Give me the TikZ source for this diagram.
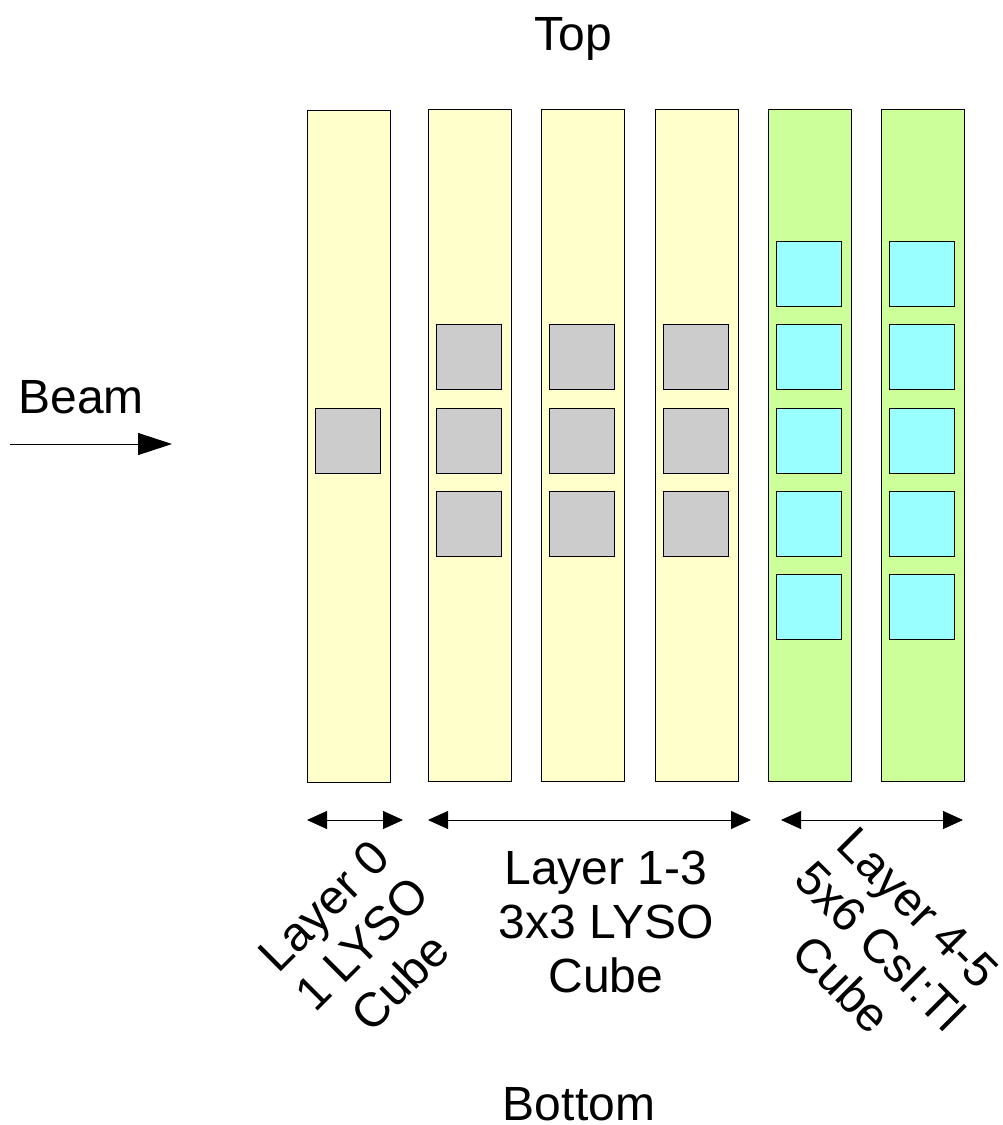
\documentclass[tikz,border=0pt]{standalone}
\usepackage{fontspec}
\setmainfont{Liberation Sans}
\usetikzlibrary{arrows.meta}
\definecolor{lyso}{HTML}{FFFFCC}
\definecolor{csi}{HTML}{CCFF99}
\definecolor{cubeg}{HTML}{CCCCCC}
\definecolor{cubec}{HTML}{99FFFF}
\tikzset{
  bar/.style={draw=black, line width=0.8pt, minimum width=83pt, minimum height=672pt, inner sep=0pt, anchor=north west},
  cube/.style={draw=black, line width=0.8pt, minimum width=65pt, minimum height=65pt, inner sep=0pt, anchor=north west},
  lbl/.style={font=\fontsize{48}{54}\selectfont, align=center, inner sep=0pt},
  dim/.style={line width=0.8pt, {Triangle[length=20pt,width=18pt]}-{Triangle[length=20pt,width=18pt]}},
}
\begin{document}
\begin{tikzpicture}[x=1pt,y=-1pt]
\useasboundingbox (0,0) rectangle (1003,1125);
% bars
\node[bar, fill=lyso] (b0) at (307,110) {};
\node[bar, fill=lyso] (b1) at (428,109) {};
\node[bar, fill=lyso] (b2) at (541,109) {};
\node[bar, fill=lyso] (b3) at (655,109) {};
\node[bar, fill=csi] (b4) at (768,109) {};
\node[bar, fill=csi] (b5) at (881,109) {};
% cubes
\node[cube, fill=cubeg] (c00) at (315,408) {};
\foreach \x [count=\i] in {436,549,663}{
  \foreach \y [count=\j] in {324,408,491}{
    \node[cube, fill=cubeg] (c\i\j) at (\x,\y) {};
  }
}
\foreach \x [count=\i from 4] in {776,889}{
  \foreach \y [count=\j] in {241,324,408,491,574}{
    \node[cube, fill=cubec] (c\i\j) at (\x,\y) {};
  }
}
% dimension arrows
\coordinate (d0a) at (307,820); \coordinate (d0b) at (403,820);
\coordinate (d1a) at (428,820); \coordinate (d1b) at (751,820);
\coordinate (d2a) at (781,820); \coordinate (d2b) at (963,820);
\draw[dim] (d0a) -- (d0b);
\draw[dim] (d1a) -- (d1b);
\draw[dim] (d2a) -- (d2b);
% beam
\coordinate (bma) at (10,444); \coordinate (bmb) at (172,444);
\draw[line width=0.8pt, -{Triangle[length=34pt,width=22pt]}] (bma) -- (bmb);
\node[lbl, anchor=base] (beam) at (81,413) {Beam};
\node[lbl, anchor=base] (top) at (573,50) {Top};
\node[lbl, anchor=base] (bottom) at (579,1120) {Bottom};
% labels
\node[lbl] (l0) at (362,944) [rotate=45] {Layer 0\\1 LYSO\\Cube};
\node[lbl] (l1) at (606,922) {Layer 1-3\\3x3 LYSO\\Cube};
\node[lbl] (l2) at (880,946) [rotate=-45] {Layer 4-5\\5x6 CsI:Tl\\Cube};
\end{tikzpicture}
\end{document}
